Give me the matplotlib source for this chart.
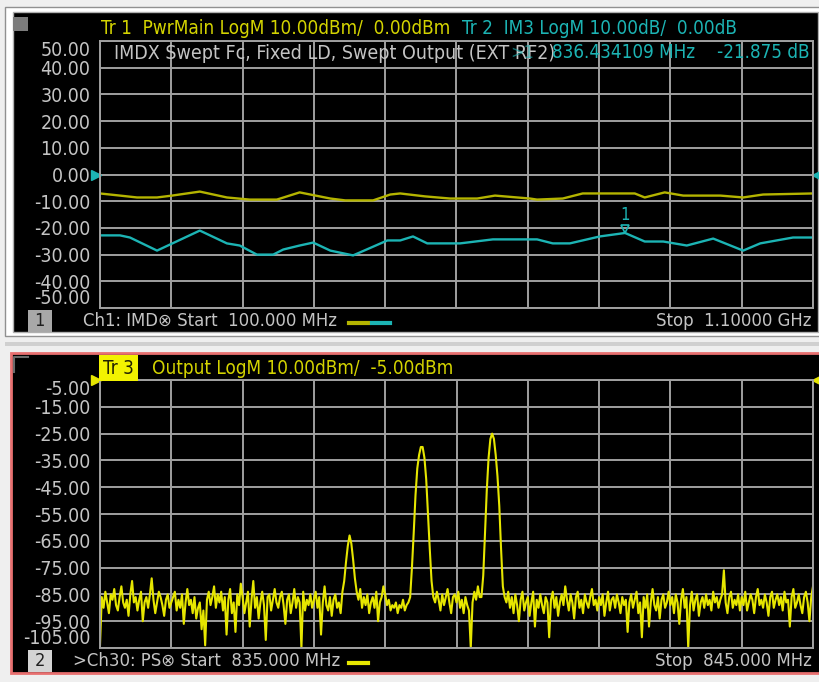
import numpy as np
import matplotlib
matplotlib.use('Agg')
import matplotlib.pyplot as plt
import matplotlib.transforms as mtransforms
from matplotlib.patches import Rectangle
from matplotlib.lines import Line2D
from matplotlib import font_manager

W, H = 820, 682

# the analyzer font is narrow: use condensed DejaVu if it is there, else Liberation Sans
_cond = font_manager.findfont(font_manager.FontProperties(family='DejaVu Sans', stretch='condensed'))
if 'Condensed' in _cond:
    plt.rcParams['font.family'] = ['DejaVu Sans']
    plt.rcParams['font.stretch'] = 'condensed'
else:
    plt.rcParams['font.family'] = ['Liberation Sans', 'DejaVu Sans']

# --- Channel 1: IMD swept, 100 MHz .. 1.1 GHz ---
pwr_freq_mhz = [100, 128, 152, 180, 201, 240, 278, 310, 348, 380, 423, 444, 483, 507, 521,
                556, 591, 629, 654, 703, 713, 749, 777, 850, 864, 892, 918, 970, 1002, 1030, 1100]
pwrmain_dbm = [-7.1, -7.9, -8.6, -8.6, -7.9, -6.4, -8.6, -9.4, -9.4, -6.7, -9.0, -9.7, -9.7, -7.5, -7.1,
               -8.2, -9.0, -9.0, -7.9, -9.0, -9.4, -9.0, -7.1, -7.1, -8.6, -6.7, -7.9, -7.9, -8.6, -7.5, -7.1]

im3_freq_mhz = [100, 128, 142, 180, 240, 278, 296, 320, 343, 357, 380, 399, 423, 455, 503, 521,
                539, 559, 605, 651, 713, 735, 759, 801, 836.4, 864, 890, 923, 960, 1002, 1026, 1072, 1100]
im3_db = [-22.8, -22.8, -23.6, -28.5, -21.0, -25.8, -26.6, -30.0, -30.0, -28.1, -26.6, -25.5, -28.5, -30.3,
          -24.7, -24.7, -23.2, -25.8, -25.8, -24.3, -24.3, -25.8, -25.8, -23.2, -21.9, -25.1, -25.1, -26.6,
          -24.0, -28.5, -25.8, -23.6, -23.6]

marker_freq_mhz = 836.434109
marker_db = -21.875

# --- Channel 30: output spectrum, 835 .. 845 MHz (401 points) ---
out_dbm = (
    [-104, -86, -90, -84, -88, -92, -85, -87, -83, -89, -91, -86, -82, -88, -90, -87, -93, -85, -80, -88]
    + [-86, -91, -87, -84, -95, -88, -86, -90, -85, -79, -87, -92, -88, -84, -86, -89, -93, -87, -85, -90]
    + [-88, -86, -84, -91, -87, -90, -85, -96, -88, -83, -89, -87, -92, -86, -94, -90, -88, -98, -91, -104]
    + [-87, -84, -89, -86, -82, -90, -85, -88, -84, -91, -86, -100, -87, -83, -92, -88, -99, -85, -89, -81]
    + [-86, -92, -88, -84, -97, -87, -80, -90, -86, -94, -88, -84, -89, -102, -86, -85, -91, -87, -83, -88]
    + [-90, -86, -84, -89, -96, -87, -85, -92, -88, -83, -90, -86, -88, -105, -84, -91, -87, -89, -85, -90]
    + [-87, -84, -90, -86, -100, -88, -82, -89, -91, -86, -93, -87, -85, -90, -88, -92, -84, -80, -73, -67]
    + [-63, -66, -72, -79, -84, -87, -83, -90, -86, -89, -85, -92, -88, -86, -90, -84, -95, -88, -86, -82]
    + [-85, -89, -87, -91, -89, -90, -88, -92, -89, -90, -87, -91, -89, -88, -86, -75, -62, -48, -38, -33]
    + [-30, -30, -34, -42, -55, -68, -80, -86, -88, -84, -87, -91, -85, -89, -86, -83, -88, -92, -86, -85]
    + [-88, -84, -90, -87, -92, -86, -89, -91, -105, -88, -84, -87, -82, -86, -86, -78, -62, -46, -34, -27]
    + [-25, -27, -33, -41, -52, -68, -82, -86, -88, -84, -90, -86, -92, -85, -89, -95, -87, -84, -91, -88]
    + [-86, -93, -88, -84, -97, -87, -90, -85, -89, -92, -86, -88, -101, -87, -84, -90, -86, -93, -88, -85]
    + [-89, -82, -87, -91, -85, -88, -94, -86, -84, -90, -87, -92, -85, -88, -90, -86, -83, -89, -87, -91]
    + [-86, -89, -85, -93, -88, -84, -91, -87, -86, -90, -85, -88, -92, -86, -89, -87, -99, -88, -85, -90]
    + [-87, -84, -92, -88, -101, -86, -90, -85, -97, -88, -83, -89, -91, -86, -94, -87, -85, -90, -88, -84]
    + [-89, -86, -92, -85, -88, -96, -87, -83, -90, -86, -105, -89, -84, -91, -87, -85, -93, -88, -86, -90]
    + [-85, -89, -87, -91, -84, -88, -86, -90, -87, -85, -76, -88, -92, -86, -84, -90, -87, -89, -85, -91]
    + [-86, -89, -84, -91, -88, -85, -87, -92, -86, -83, -89, -87, -90, -85, -88, -93, -86, -84, -90, -87]
    + [-85, -89, -86, -91, -84, -88, -87, -97, -86, -83, -90, -88, -85, -89, -92, -86, -84, -88, -95, -86, -82]
)
out_freq_mhz = np.linspace(835, 845, len(out_dbm))

YELLOW_TXT = '#d4d400'
YELLOW_TR1 = '#b4b400'
YELLOW_TR3 = '#e6e600'
CYAN = '#1cb4b4'
GRID = '#a0a0a0'
LABEL = '#c4c4c4'
FS = 14
FS_HEAD = 13.6
FS_STATUS = 13.2


def fx(x):
    return x / W


def fy(y):
    return 1 - y / H


def px_axes(x0, y0, x1, y1):
    return fig.add_axes([fx(x0), fy(y1), (x1 - x0) / W, (y1 - y0) / H])


def fig_rect(x0, y0, x1, y1, **kw):
    fig.add_artist(Rectangle((fx(x0), fy(y1)), (x1 - x0) / W, (y1 - y0) / H,
                             transform=fig.transFigure, zorder=-5, **kw))


def fig_txt(x, y, s, color=LABEL, size=FS, ha='left', **kw):
    fig.text(fx(x), fy(y), s, color=color, fontsize=size, ha=ha, va='center', **kw)


def style_grid(ax, xlim, ylim):
    ax.set_facecolor('black')
    ax.set_xlim(*xlim)
    ax.set_ylim(*ylim)
    ax.set_xticks(np.linspace(xlim[0], xlim[1], 11))
    yt = np.linspace(ylim[0], ylim[1], 11)
    ax.set_yticks(yt)
    ax.set_yticklabels(['%.2f' % v for v in yt])
    ax.tick_params(length=0, labelbottom=False, labelcolor=LABEL, labelsize=FS, pad=7)
    labs = ax.get_yticklabels()
    labs[0].set_va('bottom')
    labs[-1].set_va('top')
    ax.grid(True, color=GRID, lw=1.4)
    ax.set_axisbelow(True)
    for sp in ax.spines.values():
        sp.set_color(GRID)
        sp.set_linewidth(1.4)


fig = plt.figure(figsize=(W / 100, H / 100), dpi=100)
fig.patch.set_facecolor('#efefef')

# panel frames
fig_rect(5, 7, 822, 336, facecolor='white', edgecolor='#909090', lw=1)
fig_rect(13, 12, 818, 332, facecolor='black', edgecolor='#b0b0b0', lw=1)
fig_rect(5, 342, 822, 346, facecolor='#d0d0d0', edgecolor='none')
fig_rect(11, 353, 822, 673, facecolor='black', edgecolor='#e87070', lw=2)

# ---------------- top channel ----------------
ax1 = px_axes(100, 41, 813, 308)
style_grid(ax1, (100, 1100), (-50, 50))
ax1.plot(pwr_freq_mhz, pwrmain_dbm, color=YELLOW_TR1, lw=1.7)
ax1.plot(im3_freq_mhz, im3_db, color=CYAN, lw=1.7)

tip = mtransforms.offset_copy(ax1.transData, fig=fig, y=3, units='points')
ax1.plot([marker_freq_mhz], [marker_db], marker='v', ms=6, mfc='none', mec=CYAN,
         mew=1.2, transform=tip)
ax1.annotate('1', (marker_freq_mhz, marker_db), xytext=(0, 13), textcoords='offset points',
             ha='center', va='center', color=CYAN, fontsize=12)

ref1 = mtransforms.blended_transform_factory(ax1.transAxes, ax1.transData)
ax1.plot([-0.006], [0], marker='>', ms=7, color=CYAN, transform=ref1, clip_on=False)
ax1.plot([1.006], [0], marker='<', ms=7, color=CYAN, transform=ref1, clip_on=False)

ax1.text(0.02, 0.955, 'IMDX Swept Fc, Fixed LD, Swept Output (EXT RF2)', transform=ax1.transAxes,
         color=LABEL, fontsize=FS, va='center', ha='left')
ax1.text(0.575, 0.955, '>1', transform=ax1.transAxes, color=CYAN, fontsize=13, va='center',
         alpha=0.6)
fig_txt(552, 52, '%.6f MHz' % marker_freq_mhz, color=CYAN, size=13.5)
fig_txt(810, 52, '%.3f dB' % marker_db, color=CYAN, ha='right', size=13.5)

fig_rect(13, 17, 28, 31, facecolor='#7c7c7c', edgecolor='none')
fig_txt(101, 28, 'Tr 1  PwrMain LogM 10.00dBm/  0.00dBm', color=YELLOW_TXT, size=FS_HEAD)
fig_txt(462, 28, 'Tr 2  IM3 LogM 10.00dB/  0.00dB', color=CYAN, size=FS_HEAD)

fig_txt(30, 321, ' 1 ', color='#202020', size=13,
        bbox=dict(boxstyle='square,pad=0.1', fc='#a8a8a8', ec='none'))
fig_txt(83, 321, 'Ch1: IMD\u2297 Start  100.000 MHz', color=LABEL, size=FS_STATUS)
fig.add_artist(Line2D([fx(349), fx(368)], [fy(323)] * 2, color=YELLOW_TR1, lw=3))
fig.add_artist(Line2D([fx(372), fx(390)], [fy(323)] * 2, color=CYAN, lw=3))
fig_txt(812, 321, 'Stop  1.10000 GHz', color=LABEL, ha='right', size=FS_STATUS)

# ---------------- bottom channel ----------------
ax2 = px_axes(100, 380, 813, 648)
style_grid(ax2, (835, 845), (-105, -5))
ax2.plot(out_freq_mhz, out_dbm, color=YELLOW_TR3, lw=1.5)

ref2 = mtransforms.blended_transform_factory(ax2.transAxes, ax2.transData)
ax2.plot([-0.006], [-5], marker='>', ms=7, color=YELLOW_TR3, transform=ref2, clip_on=False)
ax2.plot([1.006], [-5], marker='<', ms=7, color=YELLOW_TR3, transform=ref2, clip_on=False)

fig.add_artist(Line2D([fx(14), fx(14), fx(28)], [fy(372), fy(357), fy(357)],
                      color='#6a6a6a', lw=1.5))
fig_txt(103, 368, 'Tr 3', color='#202000', size=FS_HEAD,
        bbox=dict(boxstyle='square,pad=0.2', fc='#f2f200', ec='none'))
fig_txt(152, 368, 'Output LogM 10.00dBm/  -5.00dBm', color=YELLOW_TXT, size=FS_HEAD)

fig_txt(30, 661, ' 2 ', color='#202020', size=13,
        bbox=dict(boxstyle='square,pad=0.1', fc='#d4d4d4', ec='none'))
fig_txt(73, 661, '>Ch30: PS\u2297 Start  835.000 MHz', color=LABEL, size=FS_STATUS)
fig.add_artist(Line2D([fx(349), fx(368)], [fy(663)] * 2, color=YELLOW_TR3, lw=3))
fig_txt(812, 661, 'Stop  845.000 MHz', color=LABEL, ha='right', size=FS_STATUS)

fig.savefig('out.png', dpi=100, facecolor=fig.get_facecolor())
